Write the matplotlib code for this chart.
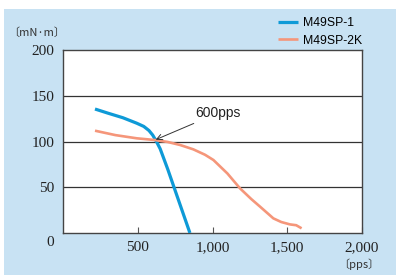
import numpy as np
import matplotlib.pyplot as plt
from matplotlib.patches import Rectangle

# torque curves
sp1_pps = [214, 300, 400, 493, 540, 575, 600, 625, 650, 700, 849]
sp1_torque = [135.5, 131, 126, 120, 116.5, 112, 107, 100, 92, 70, 0]

sp2k_pps = [214, 350, 493, 615, 700, 783, 872, 950, 1006, 1100, 1184, 1260, 1318, 1407, 1460, 1518, 1560, 1596]
sp2k_torque = [111.8, 107, 103.5, 101.6, 99.5, 96.2, 91.4, 85.5, 79.8, 65, 48.8, 37, 28.8, 16, 12, 9.4, 8.5, 5.1]

x_ticks = [500, 1000, 1500, 2000]
x_labels = ['500', '1,000', '1,500', '2,000']
y_ticks = [50, 100, 150, 200]
y_labels = ['50', '100', '150', '200']

blue = '#0e9ad7'
orange = '#f5967a'
bg = '#c8e2f3'
serif = 'Liberation Serif'

fig = plt.figure(figsize=(3.96, 2.75), dpi=100)
fig.patch.set_facecolor('white')
fig.patches.append(Rectangle((4 / 396, 0), 1, (275 - 9) / 275, transform=fig.transFigure,
                             facecolor=bg, edgecolor='none', zorder=-10))

ax = fig.add_axes([63 / 396, 1 - 233 / 275, (362 - 63) / 396, (233 - 50) / 275])
ax.set_facecolor('white')
ax.set_xlim(0, 2000)
ax.set_ylim(0, 200)

for y in [50, 100, 150]:
    ax.axhline(y, color='#333333', lw=0.9, zorder=1)

ax.plot(sp1_pps, sp1_torque, color=blue, lw=2.3, solid_capstyle='butt', label='M49SP-1', zorder=3)
ax.plot(sp2k_pps, sp2k_torque, color=orange, lw=1.9, solid_capstyle='butt', label='M49SP-2K', zorder=3)

ax.annotate('600pps', xy=(620, 102), xytext=(885, 131), fontsize=10, color='#222222',
            va='center', ha='left', family='Liberation Sans',
            arrowprops=dict(arrowstyle='->', color='#333333', lw=0.7, shrinkA=1, shrinkB=0))

for s in ax.spines.values():
    s.set_color('#444444')
    s.set_linewidth(1.0)

ax.set_xticks(x_ticks)
ax.set_xticklabels(x_labels, fontfamily=serif, fontsize=11, color='#222222')
ax.set_yticks(y_ticks)
ax.set_yticklabels(y_labels, fontfamily=serif, fontsize=11, color='#222222')
ax.tick_params(axis='x', direction='in', length=4, width=0.8, color='#555555', pad=6)
ax.tick_params(axis='y', length=0, pad=6)

fig.text(50 / 396, 1 - 243 / 275, '0', ha='center', va='center', fontsize=11,
         family=serif, color='#222222')

cjk = ['Noto Sans CJK JP', 'DejaVu Sans']
fig.text(8 / 396, 1 - 33 / 275, '〔mN·m〕', ha='left', va='center', fontsize=8,
         family=cjk, color='#333333')
fig.text(338 / 396, 1 - 264 / 275, '〔pps〕', ha='left', va='center', fontsize=8,
         family=cjk, color='#333333')

fig.legend(loc='upper left', bbox_to_anchor=(278 / 396, 1 - 17 / 275), frameon=False,
           handlelength=1.6, handletextpad=0.45, labelspacing=0.45,
           borderaxespad=0, borderpad=0, prop={'family': 'Liberation Sans', 'size': 8.8})

fig.savefig('out.png', dpi=100)
